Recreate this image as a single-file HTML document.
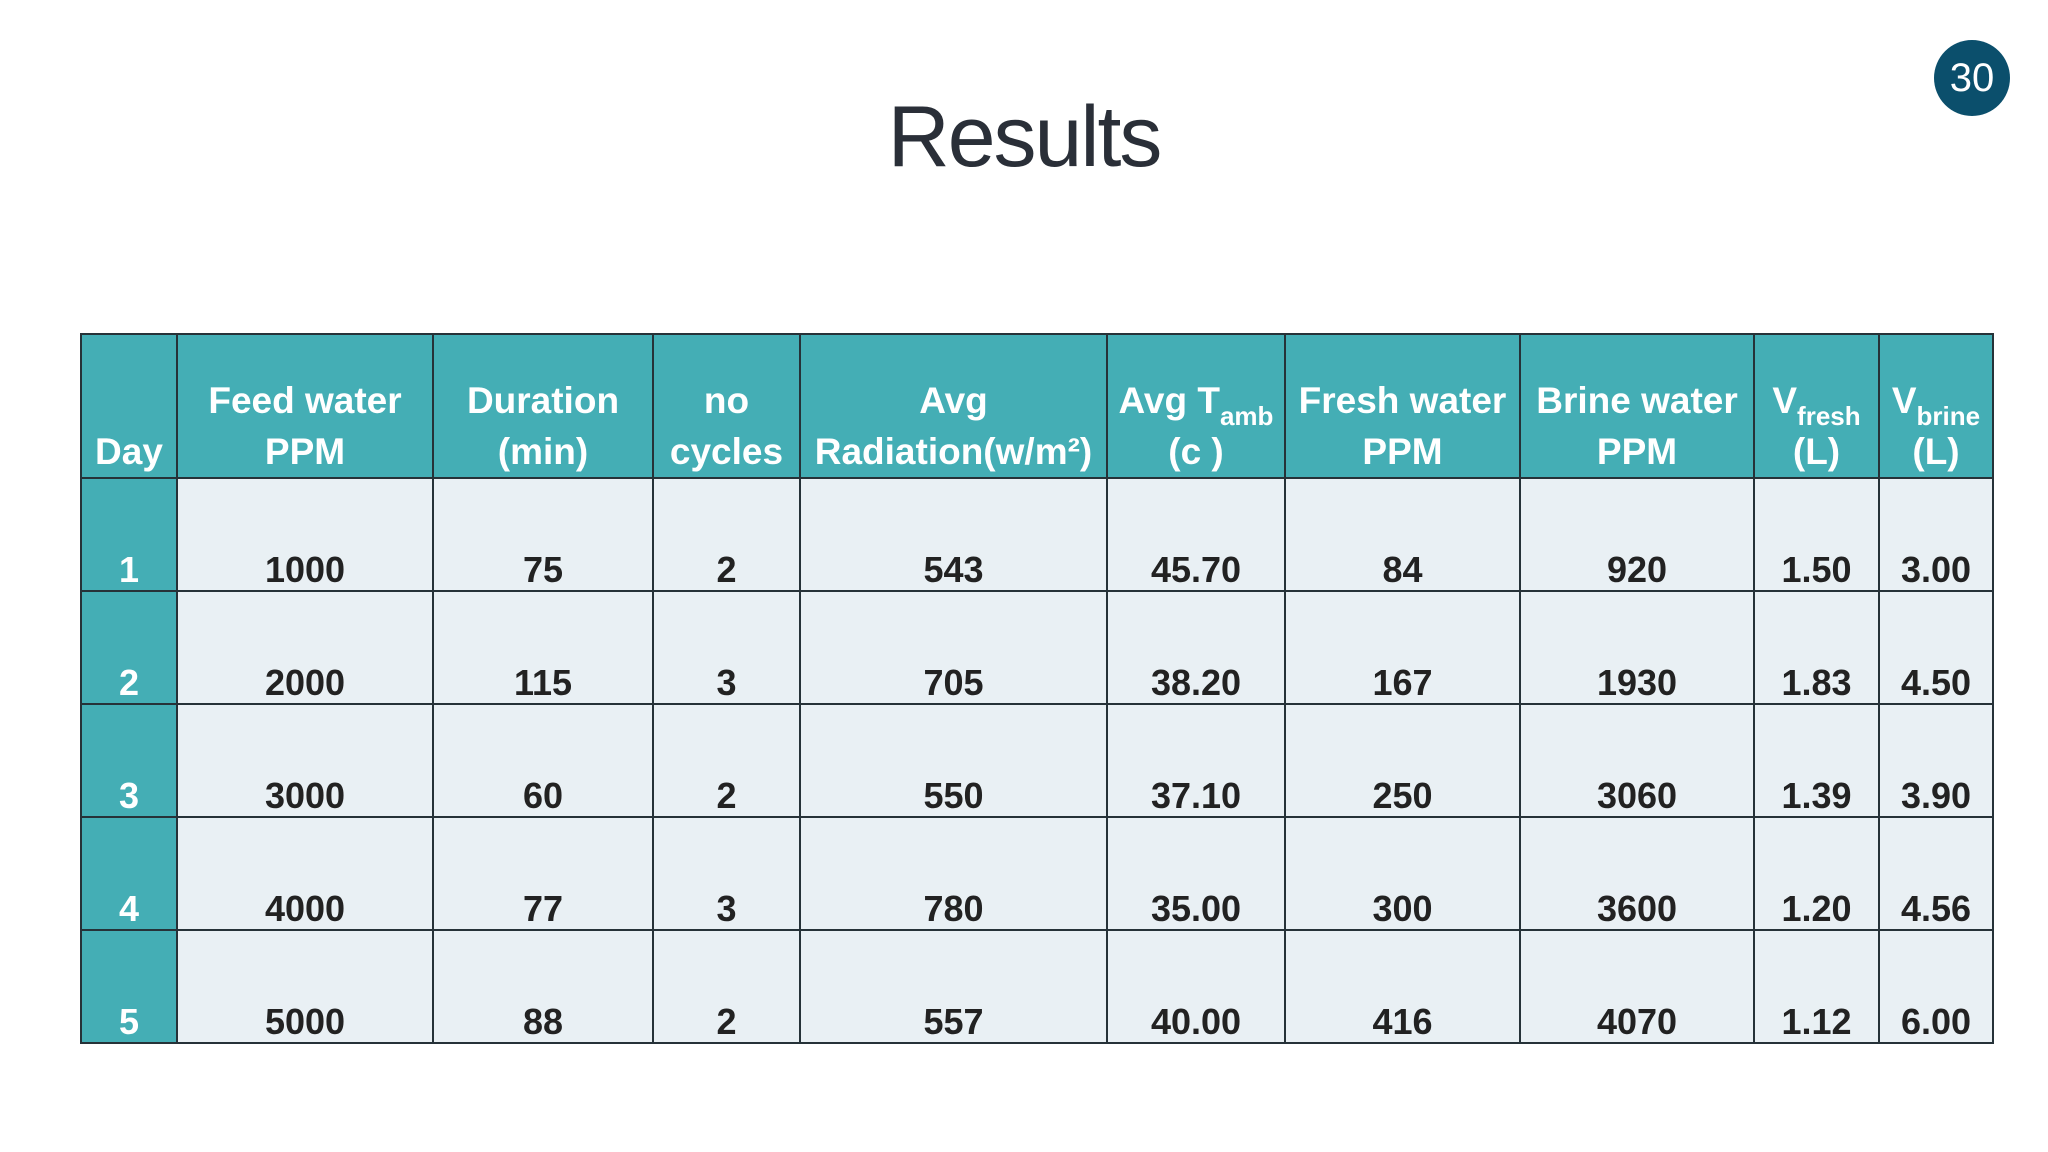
<!DOCTYPE html>
<html><head><meta charset="utf-8"><style>
body{margin:0;width:2048px;height:1152px;background:#fff;position:relative;overflow:hidden;font-family:"Liberation Sans",sans-serif}
#title{position:absolute;left:0;width:2048px;top:88px;text-align:center;font-size:86px;color:#2a2f38;letter-spacing:-2px}
#badge{position:absolute;left:1934px;top:40px;width:76px;height:76px;border-radius:50%;background:#0b4f6c;color:#fff;font-size:40px;line-height:76px;text-align:center}
table{position:absolute;left:80px;top:333px;border-collapse:collapse;table-layout:fixed}
td{border:2px solid #263238;text-align:center;vertical-align:bottom;font-weight:bold;font-size:36px;padding:0;line-height:40px}
tr.h td{background:#44aeb5;color:#fff;height:142px;line-height:51px;font-size:37px;padding-bottom:0}
tr.r td{background:#e9f0f4;color:#222;height:111px}
tr.r td.d{background:#44aeb5;color:#fff}
sub{font-size:26px;vertical-align:-12px;line-height:0}
</style></head><body>
<div id="title">Results</div>
<div id="badge">30</div>
<table>
<colgroup><col style="width:96px"><col style="width:256px"><col style="width:220px"><col style="width:147px"><col style="width:307px"><col style="width:178px"><col style="width:235px"><col style="width:234px"><col style="width:125px"><col style="width:114px"></colgroup>
<tr class="h">
<td>Day</td>
<td>Feed water<br>PPM</td>
<td>Duration<br>(min)</td>
<td>no<br>cycles</td>
<td>Avg<br>Radiation(w/m²)</td>
<td>Avg T<sub>amb</sub><br>(c )</td>
<td>Fresh water<br>PPM</td>
<td>Brine water<br>PPM</td>
<td>V<sub>fresh</sub><br>(L)</td>
<td>V<sub>brine</sub><br>(L)</td>
</tr>
<tr class="r"><td class="d">1</td><td>1000</td><td>75</td><td>2</td><td>543</td><td>45.70</td><td>84</td><td>920</td><td>1.50</td><td>3.00</td></tr>
<tr class="r"><td class="d">2</td><td>2000</td><td>115</td><td>3</td><td>705</td><td>38.20</td><td>167</td><td>1930</td><td>1.83</td><td>4.50</td></tr>
<tr class="r"><td class="d">3</td><td>3000</td><td>60</td><td>2</td><td>550</td><td>37.10</td><td>250</td><td>3060</td><td>1.39</td><td>3.90</td></tr>
<tr class="r"><td class="d">4</td><td>4000</td><td>77</td><td>3</td><td>780</td><td>35.00</td><td>300</td><td>3600</td><td>1.20</td><td>4.56</td></tr>
<tr class="r"><td class="d">5</td><td>5000</td><td>88</td><td>2</td><td>557</td><td>40.00</td><td>416</td><td>4070</td><td>1.12</td><td>6.00</td></tr>
</table>
</body></html>
